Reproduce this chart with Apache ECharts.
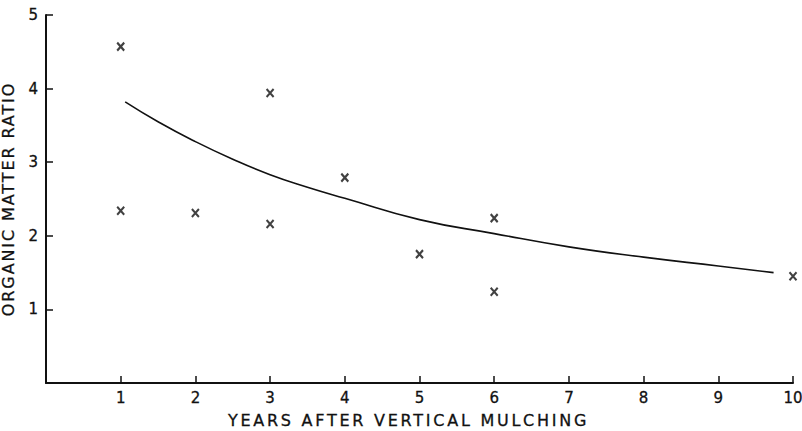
<!DOCTYPE html>
<html>
<head>
<meta charset="utf-8">
<script src="https://cdn.jsdelivr.net/npm/echarts@6/dist/echarts.min.js"></script>
<style>
html,body{margin:0;padding:0;background:#fff;}
#chart{width:802px;height:431px;}
</style>
</head>
<body>
<div id="chart"></div>
<script>
// Observed points (years after vertical mulching, organic matter ratio)
const obsYears = [1, 1, 2, 3, 3, 4, 5, 6, 6, 10];
const obsRatio = [4.57, 2.34, 2.31, 3.94, 2.16, 2.79, 1.75, 2.24, 1.24, 1.45];

// Fitted curve
const curveYears = [1.06, 1.5, 2, 2.5, 3, 3.5, 4, 5, 6, 7, 8, 9, 9.74];
const curveRatio = [3.82, 3.55, 3.28, 3.04, 2.83, 2.66, 2.51, 2.22, 2.03, 1.85, 1.71, 1.59, 1.50];

// Axis tick labels
const xTicks = [1, 2, 3, 4, 5, 6, 7, 8, 9, 10];
const yTicks = [1, 2, 3, 4, 5];

const xTitle = 'YEARS AFTER VERTICAL MULCHING';
const yTitle = 'ORGANIC MATTER RATIO';

const chart = echarts.init(document.getElementById('chart'), null, {renderer: 'svg'});
const font = 'DejaVu Sans';
const ink = '#111';
const txt = (size) => ({fontFamily: font, fontSize: size, color: ink, textBorderColor: ink, textBorderWidth: 0.3});

chart.setOption({
  animation: false,
  backgroundColor: '#fff',
  grid: {left: 46, right: 9, top: 15, bottom: 48, containLabel: false, outerBoundsMode: 'none'},
  xAxis: {
    type: 'value', min: 0, max: 10, interval: 1,
    name: xTitle, nameLocation: 'middle', nameGap: 29,
    nameTextStyle: Object.assign(txt(16), {padding: [0, 22, 0, 0]}),
    axisLine: {show: true, onZero: false, lineStyle: {color: ink, width: 2}},
    axisTick: {show: true, inside: true, length: 7, lineStyle: {color: ink, width: 1.5}},
    axisLabel: Object.assign(txt(15), {margin: 7,
      formatter: v => xTicks.indexOf(v) >= 0 ? String(v) : ''}),
    splitLine: {show: false}
  },
  yAxis: {
    type: 'value', min: 0, max: 5, interval: 1,
    name: yTitle, nameLocation: 'middle', nameGap: 30, nameRotate: 90,
    nameTextStyle: txt(16),
    axisLine: {show: true, onZero: false, lineStyle: {color: ink, width: 2}},
    axisTick: {show: true, inside: true, length: 7, lineStyle: {color: ink, width: 1.5}},
    axisLabel: Object.assign(txt(15), {margin: 8,
      formatter: v => yTicks.indexOf(v) >= 0 ? String(v) : ''}),
    splitLine: {show: false}
  },
  series: [
    {
      type: 'line',
      data: curveYears.map((x, i) => [x, curveRatio[i]]),
      smooth: true,
      showSymbol: false,
      lineStyle: {color: ink, width: 1.6}
    },
    {
      type: 'scatter',
      data: obsYears.map((x, i) => [x, obsRatio[i]]),
      symbol: 'path://M0 0L10 10M10 0L0 10',
      symbolSize: [7, 8],
      itemStyle: {color: 'rgba(0,0,0,0)', borderColor: ink, borderWidth: 2.2}
    }
  ]
});

// widen the lettering of the axis titles as in the original typesetting
function spaceTitles() {
  document.querySelectorAll('#chart text').forEach(t => {
    if (t.textContent === xTitle) t.style.letterSpacing = '2.75px';
    else if (t.textContent === yTitle) t.style.letterSpacing = '1.9px';
  });
}
spaceTitles();
chart.on('finished', spaceTitles);
</script>
</body>
</html>
